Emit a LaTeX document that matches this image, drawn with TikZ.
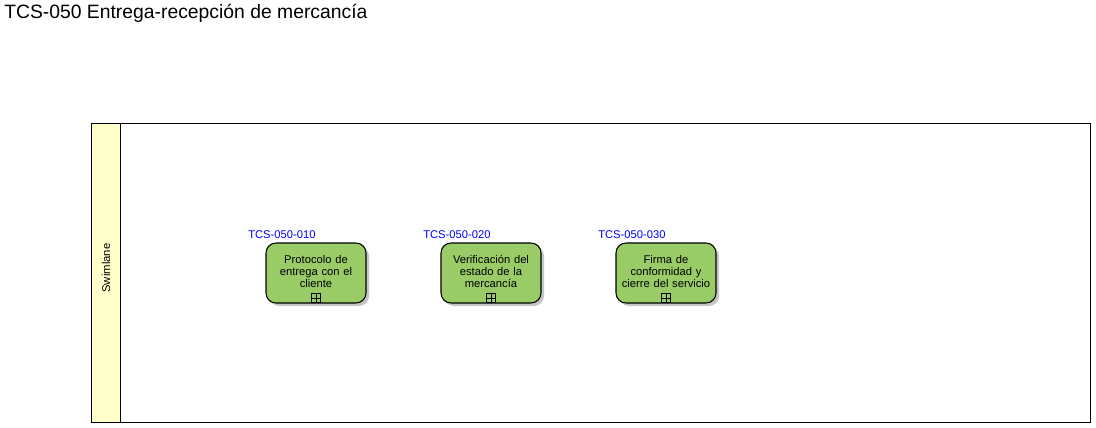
\documentclass[tikz,border=0pt]{standalone}
\usepackage{fontspec}
\setmainfont{Liberation Sans}
\begin{document}
\begin{tikzpicture}[x=0.75pt,y=-0.75pt,
  task/.style={draw=black, line width=0.8pt, fill=taskgreen, rounded corners=7.5pt, minimum width=75pt, minimum height=45pt, inner sep=0pt},
  tasktext/.style={align=center, font=\fontsize{8.4}{9.1}\selectfont, inner sep=0pt, text width=70pt},
  tid/.style={text=blue, font=\fontsize{8.4}{9}\selectfont, inner sep=0pt, anchor=west},
  plusbox/.style={draw=black, line width=0.5pt, minimum size=7pt, inner sep=0pt}]
\definecolor{taskgreen}{RGB}{153,204,102}
\definecolor{lanefill}{RGB}{255,255,204}
\useasboundingbox (0,0) rectangle (1096,428);
\node[anchor=west, inner sep=0pt, font=\fontsize{14.5}{16}\selectfont] (title) at (4,13) {TCS-050 Entrega-recepción de mercancía};
\node[draw=black, fill=lanefill, line width=0.6pt, minimum width=21.75pt, minimum height=224.25pt, inner sep=0pt, anchor=north west] (lanehead) at (91,123) {};
\node[draw=black, line width=0.6pt, minimum width=727.5pt, minimum height=224.25pt, inner sep=0pt, anchor=north west] (lane) at (120,123) {};
\node[rotate=90, font=\fontsize{8.5}{10}\selectfont] (lanelabel) at (106,268) {Swimlane};
\foreach \n/\x/\id/\txt in {a/316/010/{Protocolo de\\entrega con el\\cliente}, b/491/020/{Verificación del\\estado de la\\mercancía}, c/666/030/{Firma de\\conformidad y\\cierre del servicio}}{
  \fill[gray!45, rounded corners=7.5pt] ({\x-47},246) rectangle ({\x+53},306);
  \node[task] (t\n) at (\x,273) {};
  \node[tasktext] (x\n) at (\x,271.5) {\txt};
  \node[plusbox] (p\n) at (\x,298) {};
  \draw[line width=0.5pt] ([yshift=-1pt]p\n.north) -- ([yshift=1pt]p\n.south) ([xshift=1pt]p\n.west) -- ([xshift=-1pt]p\n.east);
  \node[tid] (l\n) at ({\x-68},235) {TCS-050-\id};
}
\end{tikzpicture}
\end{document}
